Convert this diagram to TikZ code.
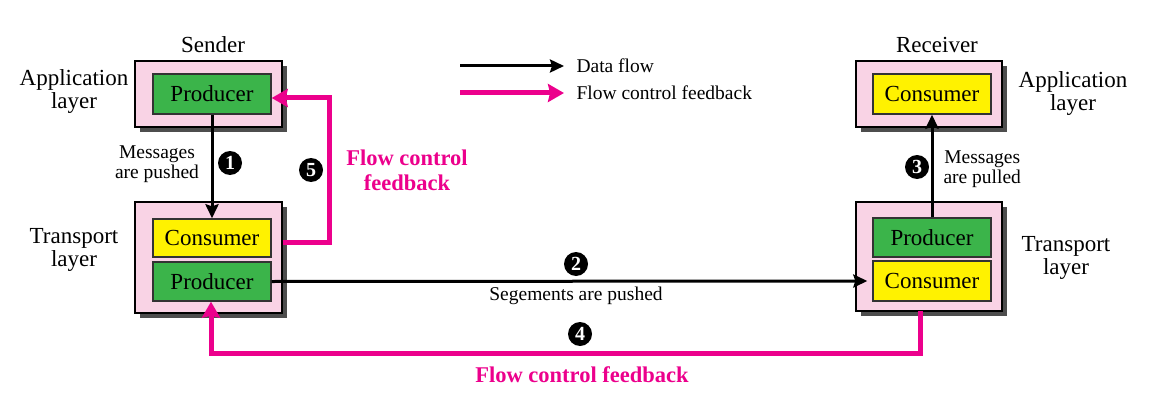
\documentclass[tikz,border=0pt]{standalone}
\usepackage{fontspec}
\setmainfont{Liberation Serif}
\newfontfamily\tms{Liberation Serif}
\usetikzlibrary{arrows.meta}
\definecolor{boxpink}{HTML}{F9D3E5}
\definecolor{prodgreen}{HTML}{3BB44A}
\definecolor{consyellow}{HTML}{FFF200}
\definecolor{fbmag}{HTML}{EC008C}
\definecolor{shadowgray}{HTML}{4D4D4D}
\begin{document}
\begin{tikzpicture}[x=1pt,y=-1pt,font=\tms,
  outerbox/.style={draw=black,line width=1.4pt,fill=boxpink,minimum width=147pt,inner sep=0pt},
  innerbox/.style={draw=black!80,line width=1.4pt,minimum width=118pt,inner sep=0pt,font=\tms\fontsize{23}{23}\selectfont},
  prodbox/.style={innerbox,fill=prodgreen},
  consbox/.style={innerbox,fill=consyellow},
  lbl/.style={font=\tms\fontsize{23}{23}\selectfont,align=center},
  small/.style={font=\tms\fontsize{19.5}{20}\selectfont,align=center},
  bigmag/.style={font=\tms\bfseries\fontsize{22.5}{25}\selectfont,text=fbmag,align=center},
  num/.style={circle,fill=black,text=white,inner sep=0pt,minimum size=24pt,font=\tms\bfseries\fontsize{20}{20}\selectfont},
  dataarrow/.style={line width=3pt,-{Stealth[length=14pt,width=13pt,inset=2pt]}},
  fbarrow/.style={line width=5pt,draw=fbmag,-{Stealth[length=16pt,width=18pt,inset=2pt]}}
]
\useasboundingbox (0,0) rectangle (1150,417);

% Shadows
\fill[shadowgray] (140,66) rectangle (287,132);
\fill[shadowgray] (140,207) rectangle (287,318);
\fill[shadowgray] (861,66) rectangle (1007,132);
\fill[shadowgray] (861,207) rectangle (1007,316);

% Sender side
\node[outerbox,minimum height=66pt] (SApp) at (208.5,94) {};
\node[prodbox,minimum height=40pt] (SProd) at (212,94) {Producer};
\node[outerbox,minimum height=111pt] (STr) at (208.5,257.5) {};
\node[consbox,minimum height=38pt] (SCons) at (212,238) {Consumer};
\node[prodbox,minimum height=39pt] (SProd2) at (212,281.5) {Producer};

% Receiver side
\node[outerbox,minimum width=146pt,minimum height=66pt] (RApp) at (929,94) {};
\node[consbox,minimum height=40pt] (RCons) at (932,94) {Consumer};
\node[outerbox,minimum width=146pt,minimum height=109pt] (RTr) at (929,256.5) {};
\node[prodbox,minimum height=39pt] (RProd) at (932,237.5) {Producer};
\node[consbox,minimum height=40pt] (RCons2) at (932,281) {Consumer};

% Labels
\node[lbl] (sender) at (213,45) {Sender};
\node[lbl] (receiver) at (937,45) {Receiver};
\node[lbl] (sapl) at (74,92) {Application\\layer};
\node[lbl] (strl) at (74,250) {Transport\\layer};
\node[lbl] (rapl) at (1073,94) {Application\\layer};
\node[lbl] (rtrl) at (1066,258) {Transport\\layer};

% Data flows
\draw[dataarrow] (SProd.south) -- (SCons.north);
\draw[dataarrow] (RProd.north) -- (RCons.south);
\draw[dataarrow] (SProd2.east) -- ([xshift=-5pt]RCons2.west);

\node[small] (mpush) at (157,164) {Messages\\are pushed};
\node[small,anchor=west] (mpull) at (940,169) {Messages\\are pulled};
\node[small] (segp) at (576,296) {Segements are pushed};

% Feedback 5
\coordinate (f5a) at (329,242);
\coordinate (f5b) at (329,98);
\draw[fbarrow] (STr.east |- f5a) -- (f5a) -- (f5b) -- (SProd.east |- f5b);

% Feedback 4
\coordinate (f4a) at (920,353);
\coordinate (f4b) at (211,353);
\draw[fbarrow] (920,311) -- (f4a) -- (f4b) -- (f4b |- SProd2.south);

\node[bigmag] (fbtop) at (407,170) {Flow control\\feedback};
\node[bigmag] (fbbot) at (582,375) {Flow control feedback};

% Numbers
\node[num] (n1) at (230,163) {1};
\node[num] (n2) at (576,264) {2};
\node[num] (n3) at (917,167) {3};
\node[num] (n4) at (580,334) {4};
\node[num] (n5) at (311,170) {5};

% Legend
\coordinate (l1a) at (460,66);
\coordinate (l1b) at (564,66);
\coordinate (l2a) at (460,93);
\coordinate (l2b) at (564,93);
\draw[dataarrow] (l1a) -- (l1b);
\draw[fbarrow] (l2a) -- (l2b);
\node[small,anchor=west] (legd) at (573,66) {Data flow};
\node[small,anchor=west] (legf) at (573,93) {Flow control feedback};
\end{tikzpicture}
\end{document}
